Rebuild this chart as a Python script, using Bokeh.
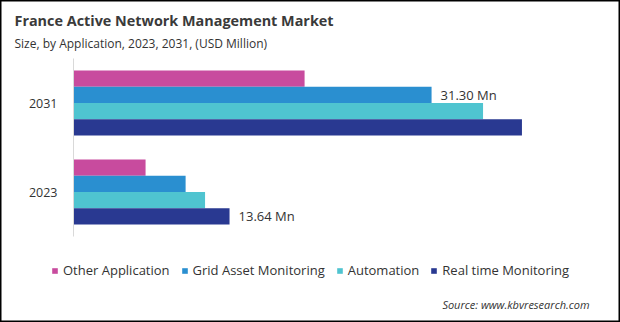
from bokeh.plotting import figure
from bokeh.models import (ColumnDataSource, Range1d, Legend, LegendItem, Label, FixedTicker)
from bokeh.transform import dodge
from bokeh.core.properties import value
from bokeh.embed import file_html
from bokeh.resources import INLINE

# ---- data ----
years = ["2023", "2031"]
series_names = ["Other Application", "Grid Asset Monitoring", "Automation", "Real time Monitoring"]
other_application = [6.3, 20.2]
grid_asset_monitoring = [9.8, 31.30]
automation = [11.5, 35.8]
real_time_monitoring = [13.64, 39.2]
colors = ["#C84B9E", "#2A8FD0", "#4FC4D0", "#293991"]

W, H = 620, 322
FONT = "Open Sans"
TXT = "#333333"

ypos = list(range(len(years)))

p = figure(width=W, height=H, output_backend="svg", toolbar_location=None,
           x_range=Range1d(-6.381, 47.815), y_range=Range1d(-1.4663, 2.1517),
           min_border=0)
p.min_border_left = 0
p.min_border_right = 0
p.min_border_top = 0
p.min_border_bottom = 0
p.xaxis.visible = False
p.xgrid.visible = False
p.ygrid.visible = False
p.outline_line_color = "black"
p.outline_line_width = 2

yax = p.yaxis[0]
yax.fixed_location = 0
yax.bounds = (-0.5, len(years) - 0.5)
yax.ticker = FixedTicker(ticks=ypos)
yax.major_label_overrides = {i: y for i, y in zip(ypos, years)}
yax.axis_line_color = "#D9D9D9"
yax.major_tick_line_color = None
yax.minor_tick_line_color = None
yax.major_tick_out = 0
yax.major_tick_in = 0
yax.major_label_text_font = FONT
yax.major_label_text_font_size = "12.5px"
yax.major_label_text_color = TXT
yax.major_label_standoff = 16

src = ColumnDataSource(dict(
    y=ypos,
    other=other_application,
    grid=grid_asset_monitoring,
    auto=automation,
    rt=real_time_monitoring,
))

bh = 0.183
offsets = [1.5 * bh, 0.5 * bh, -0.5 * bh, -1.5 * bh]
cols = ["other", "grid", "auto", "rt"]
items = []
for name, col, c, off in zip(series_names, cols, colors, offsets):
    r = p.hbar(y=dodge("y", off), right=col, left=0, height=bh,
               source=src, fill_color=c, line_color=None)
    items.append(LegendItem(label=name, renderers=[r]))

# data labels
p.text(x="x", y=dodge("y", offsets[1]), text="text",
       source=ColumnDataSource(dict(x=[grid_asset_monitoring[1]], y=[ypos[1]],
                                    text=["%.2f Mn" % grid_asset_monitoring[1]])),
       x_offset=9, text_baseline="middle", text_font=value(FONT), text_font_size="13px",
       text_color=TXT)
p.text(x="x", y=dodge("y", offsets[3]), text="text",
       source=ColumnDataSource(dict(x=[real_time_monitoring[0]], y=[ypos[0]],
                                    text=["%.2f Mn" % real_time_monitoring[0]])),
       x_offset=9, text_baseline="middle", text_font=value(FONT), text_font_size="13px",
       text_color=TXT)

legend = Legend(items=items, orientation="horizontal", location=(51, 43),
                glyph_width=7, glyph_height=7, label_standoff=5, spacing=11,
                padding=0, margin=0, border_line_color=None, background_fill_alpha=0,
                label_text_font=FONT, label_text_font_size="13px", label_text_color=TXT,
                label_height=14)
p.add_layout(legend, "center")

p.add_layout(Label(x=14, y=H - 20, x_units="screen", y_units="screen",
                   text="France Active Network Management Market", text_font=FONT,
                   text_font_style="bold", text_font_size="14.4px", text_color="#3A3A3A",
                   text_baseline="middle"))
p.add_layout(Label(x=14, y=H - 43, x_units="screen", y_units="screen",
                   text="Size, by Application, 2023, 2031, (USD Million)", text_font=FONT,
                   text_font_size="12px", text_color=TXT, text_baseline="middle"))
p.add_layout(Label(x=589, y=H - 304, x_units="screen", y_units="screen",
                   text="Source: www.kbvresearch.com", text_font=FONT, text_font_style="italic",
                   text_font_size="11px", text_color=TXT, text_baseline="middle",
                   text_align="right"))

open("out.html", "w").write(file_html(p, INLINE))
